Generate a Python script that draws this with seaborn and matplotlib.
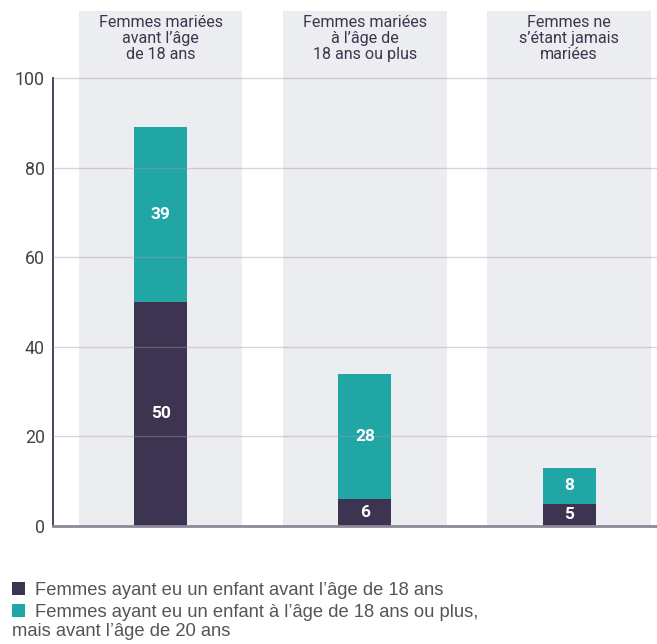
import matplotlib
matplotlib.use("Agg")
import matplotlib.pyplot as plt
import seaborn as sns
import pandas as pd
from matplotlib.patches import Patch

# data
groups = ["Femmes mariées\navant l’âge\nde 18 ans",
          "Femmes mariées\nà l’âge de\n18 ans ou plus",
          "Femmes ne\ns’étant jamais\nmariées"]
before18 = [50, 6, 5]
from18to20 = [39, 28, 8]
series_labels = ["Femmes ayant eu un enfant avant l’âge de 18 ans",
                 "Femmes ayant eu un enfant à l’âge de 18 ans ou plus,"]
legend_extra = "mais avant l’âge de 20 ans"
yticks = [0, 20, 40, 60, 80, 100]

dark = "#3d3451"
teal = "#21a6a6"
panel = "#ecedf1"
txt = "#3d3550"

df = pd.DataFrame({"group": groups, "before18": before18, "from18to20": from18to20})
df["total"] = df.before18 + df.from18to20

sns.set_theme(style="white")
plt.rcParams["font.family"] = ["Roboto", "DejaVu Sans"]

fig = plt.figure(figsize=(6.57, 6.44), dpi=100)
ax = fig.add_axes([53 / 657, 118 / 644, 1 - 53 / 657, (526 - 10.8) / 644])

# grey background panels behind each group
for i in range(len(groups)):
    ax.axvspan(i - 0.4, i + 0.4, ymin=0, ymax=1, color=panel, lw=0, zorder=0)

# stacked bars: total first, then bottom segment on top
sns.barplot(data=df, x="group", y="total", color=teal, width=0.26,
            saturation=1, linewidth=0, ax=ax, zorder=1)
sns.barplot(data=df, x="group", y="before18", color=dark, width=0.26,
            saturation=1, linewidth=0, ax=ax, zorder=1)

for i, row in df.iterrows():
    ax.text(i, row.before18 / 2, str(row.before18), ha="center", va="center",
            color="white", fontsize=12.5, fontweight="bold", zorder=4)
    ax.text(i, row.before18 + row.from18to20 / 2, str(row.from18to20), ha="center",
            va="center", color="white", fontsize=12.5, fontweight="bold", zorder=4)
    ax.text(i, 114.0, row.group, ha="center", va="top", color=txt, fontsize=11.6,
            linespacing=1.08, zorder=4)

ax.set_xlim(-0.527, 2.43)
ax.set_ylim(0, 115)
ax.set_yticks(yticks)
ax.set_yticklabels([str(t) for t in yticks], fontsize=12.8, color="#444444")
ax.set_xticks([])
ax.set_xlabel("")
ax.set_ylabel("")
ax.tick_params(axis="y", length=0, pad=6)

for y in yticks[1:]:
    ax.axhline(y, color="#9a9aa3", lw=1, alpha=0.4, zorder=3)

for s in ["top", "right"]:
    ax.spines[s].set_visible(False)
ax.spines["left"].set_bounds(0, 100)
ax.spines["left"].set_color(txt)
ax.spines["left"].set_linewidth(1.3)
ax.spines["bottom"].set_color("#8c8a98")
ax.spines["bottom"].set_linewidth(2)
ax.patch.set_alpha(0)

handles = [Patch(facecolor=dark, edgecolor="none"), Patch(facecolor=teal, edgecolor="none")]
fig.legend(handles, series_labels, loc="upper left", bbox_to_anchor=(12 / 657, 1 - 582 / 644),
           frameon=False, labelcolor="#555555", handlelength=0.7,
           handleheight=0.7, handletextpad=0.55, labelspacing=0.25, borderaxespad=0,
           borderpad=0, prop={"family": "Liberation Sans", "size": 13.2})
fig.text(12 / 657, 1 - 632 / 644, legend_extra, ha="left", va="center", color="#555555",
         fontsize=13.2, family="Liberation Sans")

fig.savefig("out.png", dpi=100)
